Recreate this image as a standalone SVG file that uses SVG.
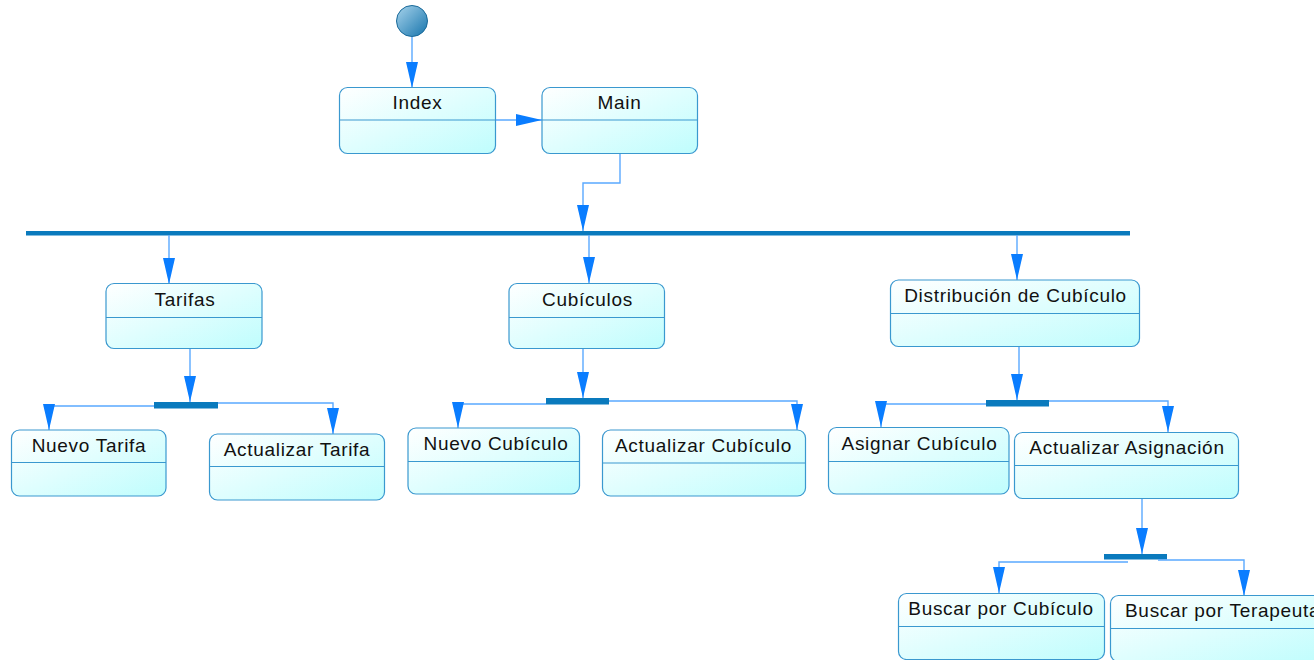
<svg xmlns="http://www.w3.org/2000/svg" width="1314" height="660" viewBox="0 0 1314 660">
  <defs>
    <linearGradient id="stateFill" x1="0" y1="0" x2="1" y2="1">
      <stop offset="0" stop-color="#ffffff"/>
      <stop offset="1" stop-color="#bffdfd"/>
    </linearGradient>
    <linearGradient id="startFill" x1="0" y1="0" x2="1" y2="1">
      <stop offset="0" stop-color="#a8d4ec"/>
      <stop offset="1" stop-color="#1674ac"/>
    </linearGradient>
    <marker id="arrow" viewBox="0 0 26 12" refX="26" refY="6" markerWidth="26" markerHeight="12" markerUnits="userSpaceOnUse" orient="auto">
      <path d="M0,0 L26,6 L0,12 z" fill="#0a7dff"/>
    </marker>
    <style>
      .state { fill: url(#stateFill); stroke: #3a98cf; stroke-width: 1.2; }
      .divider { stroke: #3a98cf; stroke-width: 1.2; }
      .label { font-family: "Liberation Sans", Arial, sans-serif; font-size: 19px; letter-spacing: 0.7px; fill: #111; text-anchor: middle; }
      .bar { fill: #0a7abd; }
      .edge { fill: none; stroke: #5aa9ff; stroke-width: 1.4; marker-end: url(#arrow); }
    </style>
  </defs>
  <rect width="1314" height="660" fill="#ffffff"/>

  <!-- initial pseudo-state -->
  <g id="start">
    <circle cx="412" cy="21" r="15.5" fill="url(#startFill)" stroke="#1a6a9a" stroke-width="1"/>
  </g>

  <!-- synchronization bars -->
  <g id="bar-main"><rect class="bar" x="26" y="231" width="1104" height="4.5"/></g>
  <g id="fork-tarifas"><rect class="bar" x="154" y="402" width="64" height="6.5"/></g>
  <g id="fork-cubiculos"><rect class="bar" x="546" y="398" width="63" height="6.5"/></g>
  <g id="fork-distribucion"><rect class="bar" x="986" y="400" width="63" height="6.5"/></g>
  <g id="fork-asignacion"><rect class="bar" x="1104" y="554" width="63" height="5.5"/></g>

  <!-- transitions -->
  <g id="connectors">
    <path class="edge" d="M412,37 V88"/>
    <path class="edge" d="M496,120 H542"/>
    <path class="edge" d="M620,154 V183 H583 V231"/>
    <path class="edge" d="M169,235 V284"/>
    <path class="edge" d="M589,235 V283"/>
    <path class="edge" d="M1017,235 V280"/>
    <path class="edge" d="M190,348 V402"/>
    <path class="edge" d="M154,406 H49 V430"/>
    <path class="edge" d="M218,403 H333 V434"/>
    <path class="edge" d="M583,348 V398"/>
    <path class="edge" d="M546,404 H458 V428"/>
    <path class="edge" d="M609,401 H797 V430"/>
    <path class="edge" d="M1019,346 V376 H1017 V400"/>
    <path class="edge" d="M986,404 H881 V427"/>
    <path class="edge" d="M1049,401 H1168 V432"/>
    <path class="edge" d="M1142,498 V554"/>
    <path class="edge" d="M1128,562 H999 V593"/>
    <path class="edge" d="M1158,560 H1244 V596"/>
  </g>

  <!-- states -->
  <g id="index">
    <rect class="state" x="339.5" y="87.5" width="156" height="66" rx="8"/>
    <line class="divider" x1="339.5" y1="120" x2="495.5" y2="120"/>
    <text class="label" x="417.5" y="109">Index</text>
  </g>
  <g id="main">
    <rect class="state" x="542" y="87.5" width="155.5" height="66" rx="8"/>
    <line class="divider" x1="542" y1="120" x2="697.5" y2="120"/>
    <text class="label" x="619.5" y="109">Main</text>
  </g>
  <g id="tarifas">
    <rect class="state" x="106" y="283.5" width="156" height="65" rx="8"/>
    <line class="divider" x1="106" y1="317.5" x2="262" y2="317.5"/>
    <text class="label" x="185" y="306">Tarifas</text>
  </g>
  <g id="cubiculos">
    <rect class="state" x="509" y="283.5" width="155.5" height="65" rx="8"/>
    <line class="divider" x1="509" y1="317.5" x2="664.5" y2="317.5"/>
    <text class="label" x="587.5" y="305.5">Cubículos</text>
  </g>
  <g id="distribucion">
    <rect class="state" x="890.5" y="280" width="249" height="66.5" rx="8"/>
    <line class="divider" x1="890.5" y1="313.5" x2="1139.5" y2="313.5"/>
    <text class="label" x="1015.5" y="302">Distribución de Cubículo</text>
  </g>
  <g id="nuevo-tarifa">
    <rect class="state" x="11.5" y="430" width="154.5" height="66" rx="8"/>
    <line class="divider" x1="11.5" y1="462.5" x2="166" y2="462.5"/>
    <text class="label" x="89" y="452">Nuevo Tarifa</text>
  </g>
  <g id="actualizar-tarifa">
    <rect class="state" x="209.5" y="434" width="175" height="66" rx="8"/>
    <line class="divider" x1="209.5" y1="466.5" x2="384.5" y2="466.5"/>
    <text class="label" x="297" y="456">Actualizar Tarifa</text>
  </g>
  <g id="nuevo-cubiculo">
    <rect class="state" x="408" y="428" width="171.5" height="66" rx="8"/>
    <line class="divider" x1="408" y1="461.5" x2="579.5" y2="461.5"/>
    <text class="label" x="496" y="450">Nuevo Cubículo</text>
  </g>
  <g id="actualizar-cubiculo">
    <rect class="state" x="602.5" y="430" width="203" height="66" rx="8"/>
    <line class="divider" x1="602.5" y1="463" x2="805.5" y2="463"/>
    <text class="label" x="703.5" y="452">Actualizar Cubículo</text>
  </g>
  <g id="asignar-cubiculo">
    <rect class="state" x="828.5" y="427.5" width="180.5" height="66.5" rx="8"/>
    <line class="divider" x1="828.5" y1="461.5" x2="1009" y2="461.5"/>
    <text class="label" x="919.5" y="450">Asignar Cubículo</text>
  </g>
  <g id="actualizar-asignacion">
    <rect class="state" x="1014.5" y="432.5" width="224" height="66" rx="8"/>
    <line class="divider" x1="1014.5" y1="465.5" x2="1238.5" y2="465.5"/>
    <text class="label" x="1127" y="454">Actualizar Asignación</text>
  </g>
  <g id="buscar-cubiculo">
    <rect class="state" x="898.5" y="593.5" width="206" height="66" rx="8"/>
    <line class="divider" x1="898.5" y1="626.5" x2="1104.5" y2="626.5"/>
    <text class="label" x="1001" y="615">Buscar por Cubículo</text>
  </g>
  <g id="buscar-terapeuta">
    <rect class="state" x="1110.5" y="595.5" width="220" height="66" rx="8"/>
    <line class="divider" x1="1110.5" y1="628.5" x2="1330.5" y2="628.5"/>
    <text class="label" x="1125" y="617" style="text-anchor:start">Buscar por Terapeuta</text>
  </g>
</svg>
